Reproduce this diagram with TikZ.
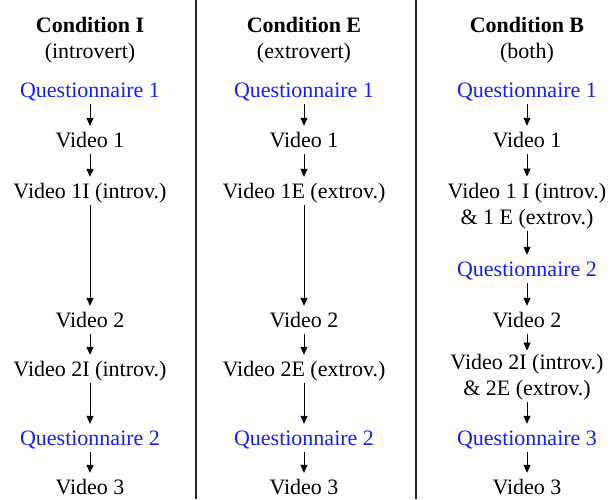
\documentclass[tikz,border=0pt]{standalone}
\usepackage{fontspec}
\setmainfont{Liberation Serif}
\usetikzlibrary{arrows.meta}
\definecolor{qblue}{RGB}{20,30,255}
\begin{document}
\begin{tikzpicture}[x=1pt,y=-1pt,
  lbl/.style={anchor=base,inner sep=0pt,font=\fontsize{22}{26}\selectfont,
    text height=15pt,text depth=5pt},
  % two-line labels: the base anchor sits on the last line
  lbltwo/.style={anchor=base,inner sep=0pt,font=\fontsize{22}{26}\selectfont,
    align=center},
  head/.style={lbl,font=\fontsize{22}{26}\selectfont\bfseries},
  quest/.style={lbl,text=qblue},
  arr/.style={-{Triangle[length=8pt,width=7pt]},line width=0.8pt,
    shorten <=2pt,shorten >=6pt},
  sep/.style={line width=1.1pt,draw=black!85}]
\useasboundingbox (0,0) rectangle (610,499);

% column separators
\draw[sep] (196,0) -- (196,499);
\draw[sep] (416,0) -- (416,499);

% Condition I
\node[head]  (iH)  at (90,32)  {Condition I};
\node[lbl]   (iS)  at (90,58)  {(introvert)};
\node[quest] (iQ1) at (90,97)  {Questionnaire 1};
\node[lbl]   (iV1) at (90,147) {Video 1};
\node[lbl]   (iV1x) at (90,198) {Video 1I (introv.)};
\node[lbl]   (iV2) at (90,327) {Video 2};
\node[lbl]   (iV2x) at (90,376) {Video 2I (introv.)};
\node[quest] (iQ2) at (90,445) {Questionnaire 2};
\node[lbl]   (iV3) at (90,494) {Video 3};
\draw[arr] (iQ1) -- (iV1);
\draw[arr] (iV1) -- (iV1x);
\draw[arr] (iV1x) -- (iV2);
\draw[arr] (iV2) -- (iV2x);
\draw[arr] (iV2x) -- (iQ2);
\draw[arr] (iQ2) -- (iV3);

% Condition E
\node[head]  (eH)  at (304,32)  {Condition E};
\node[lbl]   (eS)  at (304,58)  {(extrovert)};
\node[quest] (eQ1) at (304,97)  {Questionnaire 1};
\node[lbl]   (eV1) at (304,147) {Video 1};
\node[lbl]   (eV1x) at (304,198) {Video 1E (extrov.)};
\node[lbl]   (eV2) at (304,327) {Video 2};
\node[lbl]   (eV2x) at (304,376) {Video 2E (extrov.)};
\node[quest] (eQ2) at (304,445) {Questionnaire 2};
\node[lbl]   (eV3) at (304,494) {Video 3};
\draw[arr] (eQ1) -- (eV1);
\draw[arr] (eV1) -- (eV1x);
\draw[arr] (eV1x) -- (eV2);
\draw[arr] (eV2) -- (eV2x);
\draw[arr] (eV2x) -- (eQ2);
\draw[arr] (eQ2) -- (eV3);

% Condition B
\node[head]  (bH)  at (527,32)  {Condition B};
\node[lbl]   (bS)  at (527,58)  {(both)};
\node[quest] (bQ1) at (527,97)  {Questionnaire 1};
\node[lbl]   (bV1) at (527,147) {Video 1};
\node[lbltwo] (bV1x) at (527,224) {Video 1 I (introv.)\\ \& 1 E (extrov.)};
\node[quest] (bQ2) at (527,276) {Questionnaire 2};
\node[lbl]   (bV2) at (527,327) {Video 2};
\node[lbltwo] (bV2x) at (527,395) {Video 2I (introv.)\\ \& 2E (extrov.)};
\node[quest] (bQ3) at (527,445) {Questionnaire 3};
\node[lbl]   (bV3) at (527,494) {Video 3};
\draw[arr] (bQ1) -- (bV1);
\draw[arr] (bV1) -- (bV1x);
\draw[arr] (bV1x) -- (bQ2);
\draw[arr] (bQ2) -- (bV2);
\draw[arr,shorten >=3pt] (bV2) -- (bV2x);
\draw[arr] (bV2x) -- (bQ3);
\draw[arr] (bQ3) -- (bV3);
\end{tikzpicture}
\end{document}
